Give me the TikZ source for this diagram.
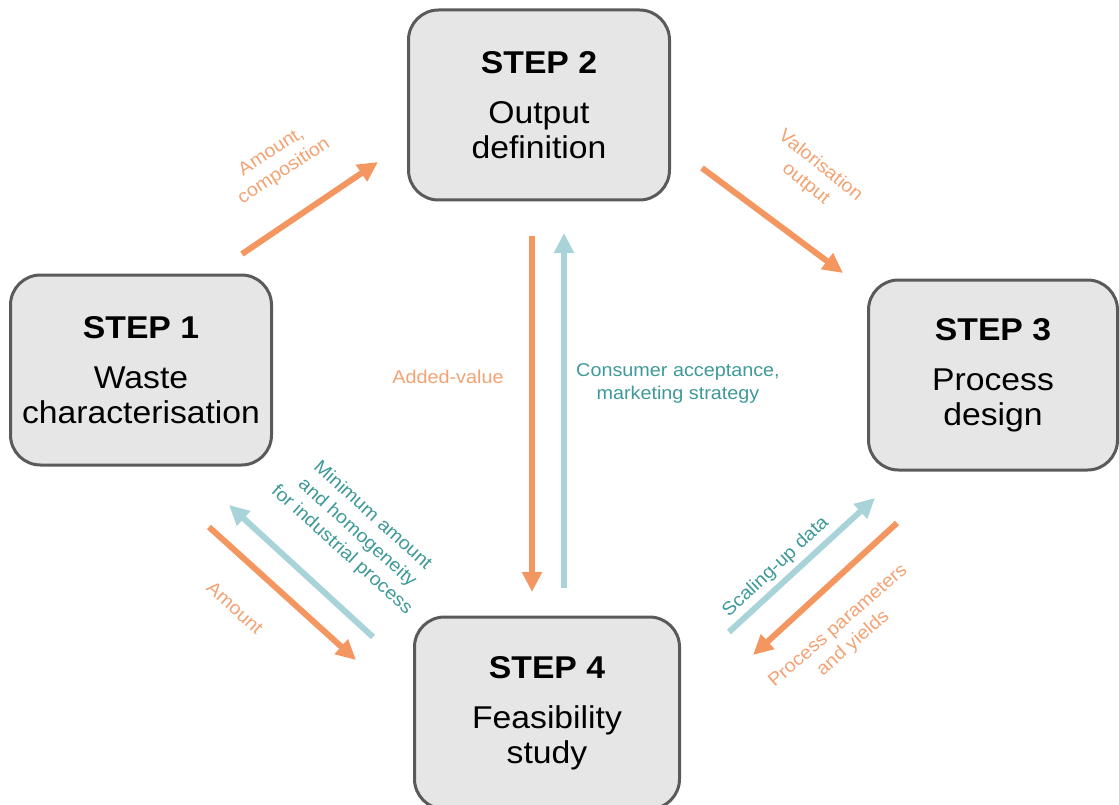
\documentclass[tikz,border=0pt]{standalone}
\usepackage{fontspec}
\setmainfont{Liberation Sans}[FakeStretch=1.07]
\usetikzlibrary{arrows.meta}

\definecolor{boxgray}{HTML}{E6E6E6}
\definecolor{boxline}{HTML}{5A5A5A}
\definecolor{flowor}{HTML}{F4965F}
\definecolor{textor}{HTML}{F2A273}
\definecolor{flowbl}{HTML}{A8D4D9}
\definecolor{textbl}{HTML}{3F9999}

\begin{document}
\begin{tikzpicture}[x=1pt,y=-1pt,
	stepbox/.style={draw=boxline,fill=boxgray,line width=3pt,rounded corners=30pt,
		minimum width=261pt,minimum height=190pt,align=center,
		font=\fontsize{31.5}{35}\selectfont},
	orflow/.style={draw=flowor,line width=6pt,-{Triangle[length=20pt,width=19pt]}},
	blflow/.style={draw=flowbl,line width=6pt,-{Triangle[length=20pt,width=19pt]}},
	orlabel/.style={text=textor,align=center,font=\fontsize{18.5}{23}\selectfont},
	bllabel/.style={text=textbl,align=center,font=\fontsize{18.5}{23}\selectfont}]
	\useasboundingbox (0,0) rectangle (1119,805);

	% the four steps
	\node[stepbox] (s1) at (141,370) {\textbf{STEP 1}\\[15pt]Waste\\characterisation};
	\node[stepbox] (s2) at (539,105) {\textbf{STEP 2}\\[15pt]Output\\definition};
	\node[stepbox,minimum width=249pt] (s3) at (993,375) {\textbf{STEP 3}\\[15pt]Process\\design};
	\node[stepbox,minimum width=265pt,minimum height=192pt] (s4) at (547,713) {\textbf{STEP 4}\\[15pt]Feasibility\\study};

	% arrow ends
	\coordinate (a12) at (242,254);  \coordinate (b12) at (378,162);
	\coordinate (a23) at (702,168);  \coordinate (b23) at (843,273);
	\coordinate (a24) at (532,236);  \coordinate (b24) at (532,592);
	\coordinate (a42) at (564,588);  \coordinate (b42) at (564,233);
	\coordinate (a41) at (373,637);  \coordinate (b41) at (229,505);
	\coordinate (a14) at (209,527);  \coordinate (b14) at (356,660);
	\coordinate (a43) at (729,632);  \coordinate (b43) at (875,498);
	\coordinate (a34) at (897,523);  \coordinate (b34) at (753,655);

	\draw[orflow] (a12) -- (b12);
	\draw[orflow] (a23) -- (b23);
	\draw[orflow] (a24) -- (b24);
	\draw[blflow] (a42) -- (b42);
	\draw[blflow] (a41) -- (b41);
	\draw[orflow] (a14) -- (b14);
	\draw[blflow] (a43) -- (b43);
	\draw[orflow] (a34) -- (b34);

	% labels
	\node[orlabel,rotate=33] (l12) at (278,162) {Amount,\\composition};
	\node[orlabel,rotate=-39] (l23) at (813,175) {Valorisation\\output};
	\node[orlabel] (l24) at (448,377) {Added-value};
	\node[bllabel] (l42) at (678,383) {Consumer acceptance,\\marketing strategy};
	\node[bllabel,rotate=-42] (l41) at (357,533) {Minimum amount\\and homogeneity\\for industrial process};
	\node[orlabel,rotate=-42] (l14) at (235,608) {Amount};
	\node[bllabel,rotate=43] (l43) at (776,567) {Scaling-up data};
	\node[orlabel,rotate=41] (l34) at (846,635) {Process parameters\\and yields};
\end{tikzpicture}
\end{document}
